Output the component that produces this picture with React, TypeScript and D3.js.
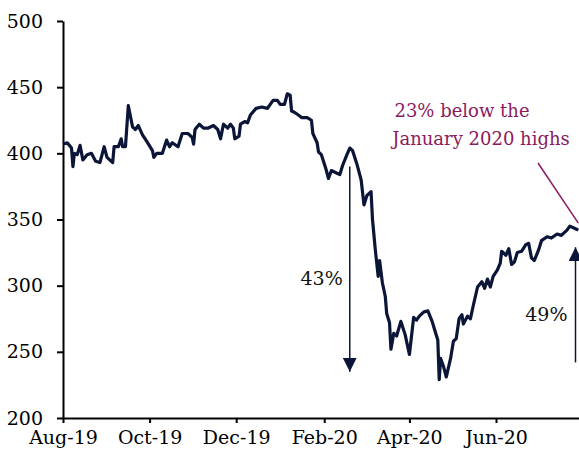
import { useEffect, useRef } from "react";
import * as d3 from "d3";

// daily index level
const dates = [
  "2019-08-01", "2019-08-04", "2019-08-07", "2019-08-08", "2019-08-09", "2019-08-11", "2019-08-13",
  "2019-08-15", "2019-08-18", "2019-08-21", "2019-08-24", "2019-08-27", "2019-08-30", "2019-09-01",
  "2019-09-05", "2019-09-06", "2019-09-09", "2019-09-11", "2019-09-12", "2019-09-14", "2019-09-16",
  "2019-09-19", "2019-09-21", "2019-09-23", "2019-09-26", "2019-09-29", "2019-10-03", "2019-10-04",
  "2019-10-06", "2019-10-10", "2019-10-13", "2019-10-15", "2019-10-17", "2019-10-21", "2019-10-24",
  "2019-10-28", "2019-10-31", "2019-11-01", "2019-11-02", "2019-11-05", "2019-11-08", "2019-11-11",
  "2019-11-15", "2019-11-18", "2019-11-20", "2019-11-22", "2019-11-25", "2019-11-27", "2019-11-29",
  "2019-11-30", "2019-12-03", "2019-12-04", "2019-12-07", "2019-12-09", "2019-12-11", "2019-12-15",
  "2019-12-19", "2019-12-23", "2019-12-27", "2019-12-30", "2020-01-01", "2020-01-04", "2020-01-06",
  "2020-01-08", "2020-01-09", "2020-01-11", "2020-01-15", "2020-01-16", "2020-01-20", "2020-01-23",
  "2020-01-24", "2020-01-27", "2020-01-28", "2020-01-30", "2020-02-02", "2020-02-04", "2020-02-06",
  "2020-02-10", "2020-02-12", "2020-02-14", "2020-02-17", "2020-02-19", "2020-02-21", "2020-02-24",
  "2020-02-27", "2020-02-29", "2020-03-02", "2020-03-05", "2020-03-06", "2020-03-08", "2020-03-10",
  "2020-03-11", "2020-03-13", "2020-03-15", "2020-03-16", "2020-03-18", "2020-03-19", "2020-03-21",
  "2020-03-23", "2020-03-26", "2020-03-29", "2020-04-01", "2020-04-04", "2020-04-06", "2020-04-08",
  "2020-04-11", "2020-04-14", "2020-04-17", "2020-04-19", "2020-04-21", "2020-04-22", "2020-04-23",
  "2020-04-25", "2020-04-27", "2020-04-30", "2020-05-02", "2020-05-04", "2020-05-06", "2020-05-08",
  "2020-05-09", "2020-05-12", "2020-05-14", "2020-05-16", "2020-05-19", "2020-05-22", "2020-05-24",
  "2020-05-26", "2020-05-28", "2020-05-30", "2020-06-02", "2020-06-04", "2020-06-05", "2020-06-08",
  "2020-06-10", "2020-06-12", "2020-06-14", "2020-06-16", "2020-06-19", "2020-06-22", "2020-06-24",
  "2020-06-26", "2020-06-28", "2020-07-01", "2020-07-03", "2020-07-07", "2020-07-10", "2020-07-14",
  "2020-07-17", "2020-07-21", "2020-07-23", "2020-07-27", "2020-07-29",
];

const values = [
  407, 408, 404, 390, 400, 399, 406,
  395, 399, 400, 394, 393, 405, 397,
  393, 405, 405, 411, 405, 405, 436,
  420, 418, 421, 414, 409, 402, 397,
  400, 400, 410, 405, 408, 405, 415,
  415, 412, 407, 418, 422, 419, 419,
  421, 418, 411, 422, 419, 422, 419,
  411, 413, 422, 424, 423, 429, 434,
  435, 434, 440, 440, 437, 437, 445,
  444, 432, 431, 428, 427, 427, 425,
  415, 408, 401, 399, 389, 381, 387,
  385, 384, 391, 399, 404, 402, 392,
  380, 361, 368, 371, 350, 327, 307,
  319, 302, 292, 279, 272, 252, 264,
  262, 273, 263, 248, 276, 274, 277,
  280, 281, 273, 266, 259, 229, 245,
  239, 231, 245, 258, 260, 275, 278,
  271, 277, 275, 285, 299, 303, 298,
  305, 299, 307, 312, 317, 326, 323,
  328, 316, 318, 325, 326, 331, 332,
  321, 319, 327, 334, 337, 336, 339,
  338, 342, 345, 343, 342,
];

const yTicks = [200, 250, 300, 350, 400, 450, 500];
const xTicks = ["2019-08-01", "2019-10-01", "2019-12-01", "2020-02-01", "2020-04-01", "2020-06-01"];

const navy = "#0b1538";
const plum = "#8b1a5e";
const font = "'DejaVu Serif', serif";

const App = () => {
  const svgRef = useRef<SVGSVGElement>(null);

  useEffect(() => {
    const svg = d3.select(svgRef.current);
    svg.selectAll("*").remove();

    const parse = d3.timeParse("%Y-%m-%d");
    const data = dates.map((d, i) => ({ date: parse(d)!, value: values[i] }));

    const x = d3.scaleTime()
      .domain([parse("2019-08-01")!, parse("2020-06-01")!])
      .range([63, 496]);
    // stretch the axis to the right edge keeping the same day width
    x.domain([x.domain()[0], x.invert(580)]).range([63, 580]);

    const y = d3.scaleLinear().domain([200, 500]).range([418, 21]);

    // arrowheads
    const defs = svg.append("defs");
    defs.append("marker")
      .attr("id", "head")
      .attr("viewBox", "0 0 10 10")
      .attr("refX", 10)
      .attr("refY", 5)
      .attr("markerWidth", 14)
      .attr("markerHeight", 14)
      .attr("markerUnits", "userSpaceOnUse")
      .attr("orient", "auto")
      .append("path")
      .attr("d", "M0,0 L10,5 L0,10 Z")
      .attr("fill", navy);

    // axes
    const yAxis = svg.append("g")
      .attr("transform", "translate(63,0)")
      .call(d3.axisLeft(y).tickValues(yTicks).tickFormat(d3.format("d")).tickSize(6).tickSizeOuter(0).tickPadding(14));

    const xAxis = svg.append("g")
      .attr("transform", "translate(0,418)")
      .call(
        d3.axisBottom(x)
          .tickValues(xTicks.map((d) => parse(d)!))
          .tickFormat(d3.timeFormat("%b-%y") as any)
          .tickSize(5)
          .tickSizeOuter(0)
          .tickPadding(8)
      );

    [yAxis, xAxis].forEach((g) => {
      g.attr("font-family", null).attr("font-size", null);
      g.selectAll("path, line").attr("stroke", "#000").attr("stroke-width", 2);
      g.selectAll("text")
        .attr("fill", "#000")
        .style("font-family", font)
        .style("font-size", "19px");
    });

    // series
    const line = d3.line<{ date: Date; value: number }>()
      .x((d) => x(d.date))
      .y((d) => y(d.value));

    svg.append("path")
      .datum(data)
      .attr("fill", "none")
      .attr("stroke", navy)
      .attr("stroke-width", 3.2)
      .attr("stroke-linejoin", "round")
      .attr("d", line);

    // fall arrow
    const peakDate = parse("2020-02-19")!;
    svg.append("line")
      .attr("x1", x(peakDate)).attr("x2", x(peakDate))
      .attr("y1", y(390)).attr("y2", y(235))
      .attr("stroke", navy)
      .attr("stroke-width", 1.5)
      .attr("marker-end", "url(#head)");

    svg.append("text")
      .attr("x", x(peakDate) - 7)
      .attr("y", 285)
      .attr("text-anchor", "end")
      .style("font-family", font)
      .style("font-size", "19px")
      .attr("fill", "#111")
      .text("43%");

    // rebound arrow
    const lastDate = parse("2020-07-27")!;
    svg.append("line")
      .attr("x1", x(lastDate)).attr("x2", x(lastDate))
      .attr("y1", y(242)).attr("y2", y(329))
      .attr("stroke", navy)
      .attr("stroke-width", 1.5)
      .attr("marker-end", "url(#head)");

    svg.append("text")
      .attr("x", x(lastDate) - 8)
      .attr("y", 321)
      .attr("text-anchor", "end")
      .style("font-family", font)
      .style("font-size", "19px")
      .attr("fill", "#111")
      .text("49%");

    // highs callout
    svg.append("line")
      .attr("x1", 538).attr("y1", 163)
      .attr("x2", x(parse("2020-07-29")!)).attr("y2", y(342) - 7)
      .attr("stroke", plum)
      .attr("stroke-width", 1.5);

    const note = svg.append("text")
      .attr("text-anchor", "middle")
      .style("font-family", font)
      .style("font-size", "18px")
      .attr("fill", plum);
    note.append("tspan").attr("x", 462).attr("y", 117).text("23% below the");
    note.append("tspan").attr("x", 481).attr("y", 145).text("January 2020 highs");
  }, []);

  return (
    <svg
      ref={svgRef}
      width={579}
      height={460}
      style={{ position: "absolute", left: 0, top: 0, background: "#fff" }}
    />
  );
};

export default App;
